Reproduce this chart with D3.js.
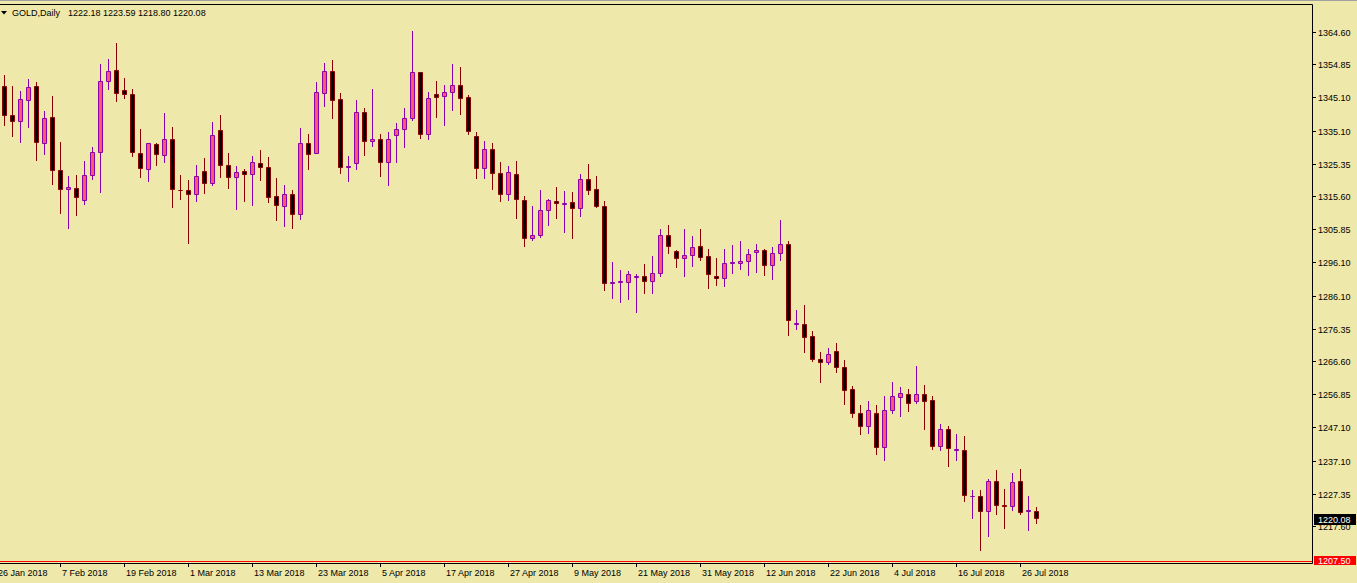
<!DOCTYPE html>
<html>
<head>
<meta charset="utf-8">
<script src="https://cdn.jsdelivr.net/npm/d3@7"></script>
<style>
  html, body { margin: 0; padding: 0; background: #EEE8AA; overflow: hidden; }
  svg { display: block; }
  text { font-family: "Liberation Sans", Arial, sans-serif; font-size: 9px; fill: #000; }
</style>
</head>
<body>
<svg id="chart" width="1357" height="583"></svg>
<script>
// ---------- DATA ----------
const symbol = "GOLD,Daily";
const opens = [
  1348.4,1339.9,1338.1,1344.3,1348.4,1331.5,1339.3,1323.5,1317.9,1318.1,
  1314.6,1322.0,1328.9,1350.0,1353.2,1347.3,1346.1,1328.6,1323.8,1331.2,
  1328.0,1332.7,1317.6,1317.6,1316.4,1323.2,1319.7,1335.4,1325.0,1321.4,
  1323.2,1322.3,1325.6,1324.4,1315.8,1312.8,1316.4,1310.5,1331.5,1328.6,
  1346.4,1352.9,1344.6,1324.4,1325.6,1340.8,1332.1,1332.7,1325.9,1333.9,
  1335.7,1339.0,1352.6,1334.2,1346.1,1345.5,1346.7,1348.8,1345.2,1333.6,
  1324.1,1329.8,1322.6,1316.4,1322.3,1314.6,1303.2,1304.1,1311.6,1314.3,
  1313.4,1314.0,1312.2,1320.9,1317.9,1312.8,1290.0,1290.3,1290.3,1291.7,
  1292.1,1290.6,1292.9,1304.2,1299.5,1297.4,1298.3,1301.0,1298.0,1292.0,
  1291.4,1295.9,1295.9,1296.5,1299.2,1299.8,1295.3,1298.9,1301.5,1277.8,
  1277.8,1274.2,1267.4,1266.5,1269.8,1265.0,1258.5,1251.4,1247.5,1251.4,
  1241.3,1252.2,1256.1,1257.0,1254.9,1257.0,1255.2,1241.5,1246.6,1240.4,
  1240.4,1226.7,1226.7,1222.2,1231.2,1223.9,1223.7,1231.2,1222.3,1222.18
];
const highs = [
  1351.8,1348.6,1347.1,1350.6,1349.8,1341.1,1345.6,1331.9,1321.8,1322.1,
  1326.3,1330.4,1355.1,1356.6,1361.3,1350.9,1347.6,1335.8,1331.5,1331.5,
  1340.5,1336.3,1322.1,1320.6,1325.1,1327.2,1337.9,1339.9,1328.7,1324.8,
  1323.8,1327.8,1329.6,1327.5,1321.2,1319.2,1317.7,1336.1,1334.3,1349.8,
  1355.4,1356.3,1346.5,1327.8,1344.4,1341.9,1347.7,1334.2,1334.9,1337.6,
  1342.0,1364.9,1352.6,1346.8,1350.0,1348.9,1355.1,1354.2,1345.9,1334.9,
  1332.2,1331.5,1326.0,1324.7,1326.3,1315.9,1312.9,1317.7,1314.9,1318.6,
  1317.4,1317.1,1322.4,1325.4,1321.8,1314.4,1296.3,1293.9,1293.6,1292.7,
  1295.7,1298.1,1306.1,1307.3,1299.8,1306.1,1304.0,1306.1,1300.2,1297.5,
  1300.2,1301.3,1302.5,1300.2,1301.6,1300.1,1300.7,1308.8,1302.4,1282.0,
  1283.5,1275.8,1269.6,1270.7,1272.2,1267.2,1259.5,1253.8,1255.0,1253.8,
  1256.5,1260.7,1259.2,1258.6,1265.4,1259.8,1256.4,1248.2,1247.5,1245.2,
  1244.6,1228.6,1228.6,1231.8,1234.5,1228.9,1233.6,1234.8,1226.8,1223.59
];
const lows = [
  1337.1,1333.7,1332.0,1336.5,1326.7,1328.5,1319.5,1310.9,1306.5,1310.3,
  1313.6,1321.0,1317.2,1347.8,1344.2,1345.1,1327.9,1321.6,1320.4,1325.2,
  1326.1,1312.7,1315.1,1302.0,1314.5,1316.9,1319.2,1321.6,1318.4,1312.1,
  1314.5,1313.3,1320.7,1314.2,1308.9,1307.1,1306.5,1309.2,1324.0,1328.6,
  1342.7,1339.1,1322.8,1320.4,1324.0,1328.2,1330.8,1321.9,1319.2,1326.1,
  1330.5,1338.5,1333.2,1332.9,1339.4,1337.1,1341.5,1340.3,1334.4,1321.3,
  1321.3,1318.1,1314.5,1314.8,1309.4,1301.1,1302.9,1303.8,1307.4,1309.4,
  1305.3,1303.5,1310.0,1316.6,1312.5,1288.1,1285.7,1284.5,1285.4,1281.5,
  1287.2,1287.2,1292.2,1299.1,1294.9,1292.2,1295.2,1297.0,1288.7,1289.5,
  1289.3,1293.1,1294.3,1292.5,1293.4,1292.5,1291.3,1297.0,1274.7,1276.5,
  1269.7,1267.0,1260.7,1266.1,1263.7,1254.2,1250.2,1245.3,1245.6,1239.2,
  1237.4,1251.5,1250.6,1252.1,1254.3,1246.8,1240.8,1240.5,1235.8,1237.6,
  1225.4,1220.3,1210.8,1215.0,1221.5,1217.4,1222.7,1221.5,1216.8,1218.80
];
const closes = [
  1339.9,1338.1,1344.6,1348.2,1331.8,1339.0,1323.5,1317.9,1318.5,1315.5,
  1322.0,1328.9,1350.0,1352.9,1346.4,1346.1,1328.9,1324.1,1331.5,1328.3,
  1332.7,1317.9,1317.5,1316.4,1321.7,1319.7,1333.9,1325.0,1321.4,1322.9,
  1322.3,1325.9,1324.4,1315.5,1313.1,1316.4,1310.5,1331.5,1328.3,1346.7,
  1352.9,1344.3,1324.4,1324.7,1340.8,1332.1,1332.7,1325.9,1332.7,1335.7,
  1339.0,1352.6,1334.2,1344.9,1345.2,1346.7,1348.8,1344.9,1335.0,1324.1,
  1329.8,1322.5,1316.4,1322.9,1314.9,1303.2,1304.2,1311.6,1314.6,1313.7,
  1313.6,1312.2,1320.9,1317.6,1312.8,1290.0,1290.3,1290.4,1292.6,1291.9,
  1290.6,1292.9,1304.2,1301.0,1297.4,1298.3,1300.7,1297.7,1292.6,1291.4,
  1295.9,1296.0,1296.5,1298.6,1299.8,1295.3,1298.9,1301.5,1278.9,1277.9,
  1273.9,1267.3,1266.5,1268.9,1265.0,1258.2,1251.4,1247.5,1252.2,1241.3,
  1252.2,1256.4,1257.3,1254.3,1257.0,1254.9,1241.6,1246.6,1241.0,1240.5,
  1226.9,1226.8,1222.2,1231.2,1224.0,1223.7,1230.9,1221.8,1222.4,1220.08
];
// date tick labels and the bar index each one marks (every 8 bars)
const dateTickLabels = ["26 Jan 2018","7 Feb 2018","19 Feb 2018","1 Mar 2018","13 Mar 2018","23 Mar 2018",
  "5 Apr 2018","17 Apr 2018","27 Apr 2018","9 May 2018","21 May 2018","31 May 2018","12 Jun 2018",
  "22 Jun 2018","4 Jul 2018","16 Jul 2018","26 Jul 2018"];
const dateTickBars = [-1,7,15,23,31,39,47,55,63,71,79,87,95,103,111,119,127];
const priceTickLabels = ["1364.60","1354.85","1345.10","1335.10","1325.35","1315.60","1305.85","1296.10",
  "1286.10","1276.35","1266.60","1256.85","1247.10","1237.10","1227.35","1217.60"];
const priceMin = 1207.50, priceMax = 1364.60;
const alertLevel = 1207.50;

// ---------- LAYOUT ----------
const W = 1357, H = 583;
const plotRight = 1312, plotTop = 4, plotBottom = 563;
const BG = "#EEE8AA";
const bullFill = "#F95A68", bullLine = "#8B00AF";
const bearFill = "#000000", bearLine = "#8B0000";

const svg = d3.select("#chart");
svg.append("rect").attr("width", W).attr("height", H).attr("fill", BG);
svg.append("rect").attr("x", 0).attr("y", 0).attr("width", W).attr("height", 1).attr("fill", "#a0a0a0");

const n = opens.length;
const x = d3.scaleLinear().domain([0, n - 1]).range([4.5, 4.5 + 8 * (n - 1)]);
const y = d3.scaleLinear().domain([priceMin, priceMax]).range([561, 32]);
const snap = v => Math.round(v - 0.5) + 0.5;

const bars = d3.range(n).map(i => ({i, o: opens[i], h: highs[i], l: lows[i], c: closes[i], bull: closes[i] > opens[i]}));

const plot = svg.append("g");
// alert line
plot.append("line").attr("x1", 0).attr("x2", plotRight).attr("y1", snap(y(alertLevel))).attr("y2", snap(y(alertLevel)))
  .attr("stroke", "#FF0000").attr("stroke-width", 1);

// wicks
plot.selectAll("line.wick").data(bars).join("line").attr("class", "wick")
  .attr("x1", d => x(d.i)).attr("x2", d => x(d.i))
  .attr("y1", d => Math.round(y(d.h))).attr("y2", d => Math.round(y(d.l)) + 1)
  .attr("stroke", d => d.bull ? bullLine : bearLine).attr("stroke-width", 1);

// bodies
plot.selectAll("path.body").data(bars).join("path").attr("class", "body")
  .attr("d", d => {
    const t = snap(y(Math.max(d.o, d.c))), b = snap(y(Math.min(d.o, d.c)));
    const cx = x(d.i);
    return `M${cx - 2},${t}H${cx + 2}V${b}H${cx - 2}Z`;
  })
  .attr("fill", d => d.bull ? bullFill : bearFill)
  .attr("stroke", d => d.bull ? bullLine : bearLine).attr("stroke-width", 1);

// frame
svg.append("path").attr("d", `M0,${plotTop + 0.5}H${plotRight + 0.5}V${plotBottom + 0.5}H0`)
  .attr("fill", "none").attr("stroke", "#000").attr("stroke-width", 1);

// price axis
const pAxis = svg.append("g");
priceTickLabels.forEach(lbl => {
  const yy = snap(y(+lbl));
  pAxis.append("line").attr("x1", plotRight + 1).attr("x2", plotRight + 4).attr("y1", yy).attr("y2", yy).attr("stroke", "#000");
  pAxis.append("text").attr("x", plotRight + 6).attr("y", yy + 3.5).text(lbl);
});

// date axis
const dAxis = svg.append("g");
dateTickBars.forEach((b, j) => {
  const xx = x(b);
  dAxis.append("line").attr("x1", xx).attr("x2", xx).attr("y1", plotBottom + 1).attr("y2", plotBottom + 4).attr("stroke", "#000");
  dAxis.append("text").attr("x", xx + 1.5).attr("y", 576).text(dateTickLabels[j]);
});

// current price label
const last = closes[n - 1];
const ly = y(last);
svg.append("rect").attr("x", plotRight + 2).attr("y", Math.round(ly) - 5).attr("width", 42).attr("height", 11).attr("fill", "#000");
svg.append("text").attr("x", plotRight + 6).attr("y", Math.round(ly) + 3.5).style("fill", "#fff").text(last.toFixed(2));

// alert label
const ay = y(alertLevel);
svg.append("rect").attr("x", plotRight + 2).attr("y", Math.round(ay) - 5).attr("width", 42).attr("height", 9).attr("fill", "#FF0000");
svg.append("text").attr("x", plotRight + 6).attr("y", Math.round(ay) + 3.2).style("fill", "#fff").text(alertLevel.toFixed(2));

// header
svg.append("path").attr("d", "M1,11H7L4,14.5Z").attr("fill", "#000");
svg.append("text").attr("x", 12).attr("y", 16).text(symbol);
svg.append("text").attr("x", 68).attr("y", 16)
  .text([opens[n-1], highs[n-1], lows[n-1], closes[n-1]].map(v => v.toFixed(2)).join(" "));
</script>
</body>
</html>
